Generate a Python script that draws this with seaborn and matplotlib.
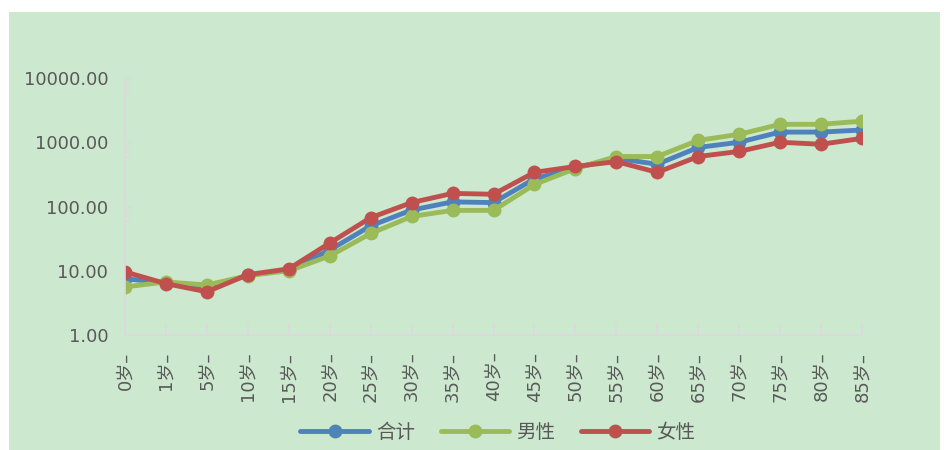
import pandas as pd
import matplotlib.pyplot as plt
import matplotlib.ticker as mticker
from matplotlib.patches import Rectangle
import seaborn as sns

# age groups and rates (log scale)
ages = ['0岁–', '1岁–', '5岁–', '10岁–', '15岁–', '20岁–', '25岁–', '30岁–', '35岁–',
        '40岁–', '45岁–', '50岁–', '55岁–', '60岁–', '65岁–', '70岁–', '75岁–', '80岁–', '85岁–']
total = [7.5, 6.5, 5.3, 8.5, 10.3, 21, 50, 88, 118, 115, 270, 400, 560, 455, 830, 1000, 1440, 1440, 1550]
male = [5.6, 6.7, 6.0, 8.4, 10, 17, 38, 70, 87, 87, 220, 390, 600, 600, 1070, 1330, 1900, 1900, 2130]
female = [9.6, 6.3, 4.7, 8.7, 10.7, 27, 67, 115, 160, 155, 340, 420, 500, 340, 600, 720, 1000, 930, 1150]
series_names = ['合计', '男性', '女性']
colors = ['#4F81BD', '#9BBB59', '#C0504D']

n = len(ages)
df = pd.DataFrame({
    'pos': list(range(n)) * 3,
    'value': total + male + female,
    'series': [series_names[0]] * n + [series_names[1]] * n + [series_names[2]] * n,
})

sns.set_style('white')
plt.rcParams['font.family'] = ['DejaVu Sans', 'Noto Sans CJK SC']

fig = plt.figure(figsize=(9.44, 4.5), dpi=100)
fig.patches.append(Rectangle((9 / 944, 0), 931 / 944, 1 - 12 / 450, transform=fig.transFigure,
                             facecolor='#cce8cf', edgecolor='none', zorder=-1))
ax = fig.add_axes([125 / 944, 1 - 335 / 450, 737 / 944, 257 / 450])
ax.set_facecolor('none')

sns.lineplot(data=df, x='pos', y='value', hue='series', hue_order=series_names,
             palette=dict(zip(series_names, colors)), marker='o', markersize=10,
             markeredgewidth=0, linewidth=3.5, ax=ax, legend=False)

ax.set_yscale('log')
ax.set_ylim(1, 10000)
ax.set_xlim(0, n - 1)
ax.yaxis.set_major_locator(mticker.LogLocator(base=10, numticks=10))
ax.yaxis.set_major_formatter(mticker.FuncFormatter(lambda v, p: f'{v:.2f}'))
ax.yaxis.set_minor_locator(mticker.LogLocator(base=10, subs=range(2, 10), numticks=20))
ax.yaxis.set_minor_formatter(mticker.NullFormatter())
ax.set_xticks(range(n))
ax.set_xticklabels(ages, rotation=90)
ax.set_xlabel('')
ax.set_ylabel('')

for side in ['top', 'right']:
    ax.spines[side].set_visible(False)
for side in ['left', 'bottom']:
    ax.spines[side].set_color('#dcd8dc')
    ax.spines[side].set_linewidth(1.2)

ax.tick_params(axis='x', direction='in', length=8, color='#dcd8dc', width=1.2,
               labelsize=13, labelcolor='#595959', pad=12, bottom=True)
ax.tick_params(axis='y', which='major', direction='in', length=4, color='#dcd8dc',
               labelsize=13, labelcolor='#595959', pad=12, left=True)
ax.tick_params(axis='y', which='minor', direction='in', length=3, color='#dcd8dc', left=True)

handles = ax.get_lines()[:3]
fig.legend(handles, series_names, loc='center', bbox_to_anchor=(498 / 944, 1 - 432 / 450),
           ncol=3, frameon=False, fontsize=14, labelcolor='#595959', handlelength=3.5,
           columnspacing=1.3, handletextpad=0.4)

fig.savefig('out.png', dpi=100, facecolor='white')
